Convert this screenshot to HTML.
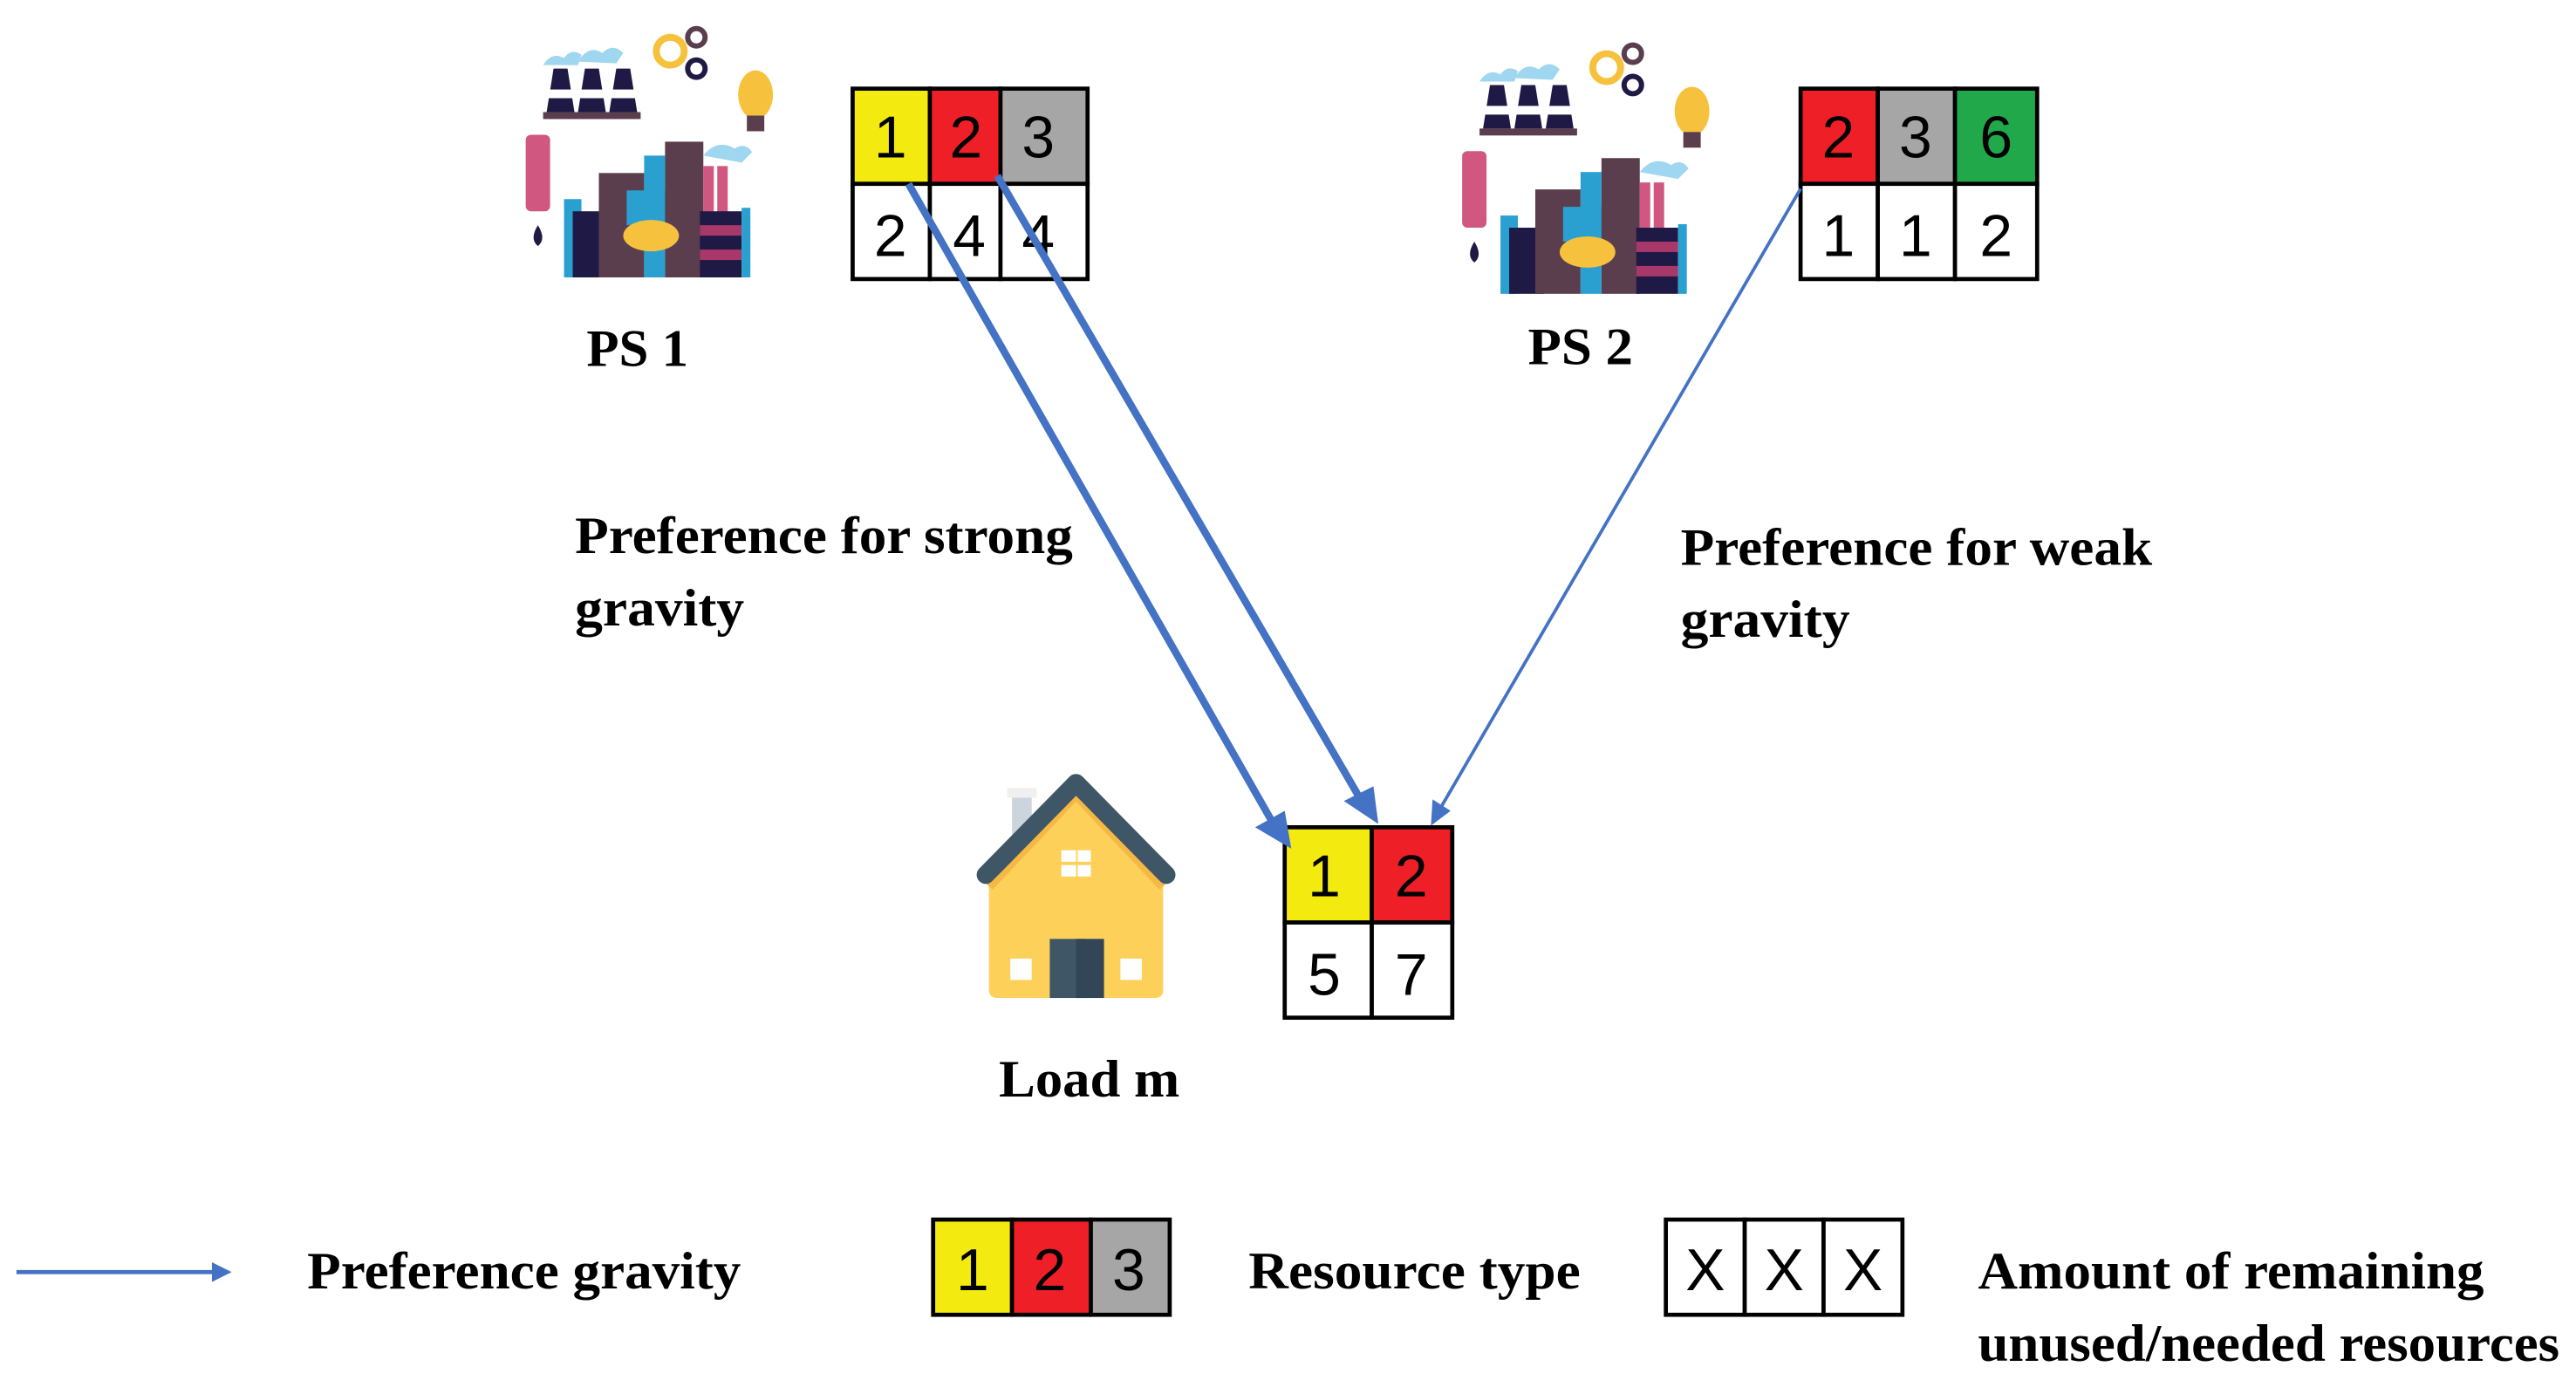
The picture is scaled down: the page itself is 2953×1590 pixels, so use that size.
<!DOCTYPE html>
<html><head><meta charset="utf-8"><style>html,body{margin:0;padding:0;background:#fff}svg{display:block}</style></head><body>
<svg width="2953" height="1590" viewBox="0 0 1568 845" preserveAspectRatio="none" xmlns="http://www.w3.org/2000/svg">
<defs>
<g id="factory">
 <path d="M10 28 q5 -8 12 -4 q4 -6 10 -2 l-2 6z" fill="#9fd6f0"/>
 <path d="M30 26 q6 -10 14 -5 q6 -6 12 0 l-4 6z" fill="#9fd6f0"/>
 <path d="M12 55 l4 -25 h8 l4 25z M30 55 l4 -25 h8 l4 25z M48 55 l4 -25 h8 l4 25z" fill="#1e1a45"/>
 <rect x="12" y="42" width="52" height="5" fill="#fff"/>
 <rect x="10" y="55" width="56" height="4" fill="#5a3e4e"/>
 <circle cx="83" cy="20" r="8" fill="none" stroke="#f6c23e" stroke-width="4"/>
 <circle cx="98" cy="12" r="5" fill="none" stroke="#5a3e4e" stroke-width="3"/>
 <circle cx="98" cy="30" r="5" fill="none" stroke="#1e1a45" stroke-width="3"/>
 <ellipse cx="132" cy="45" rx="10" ry="14" fill="#f6c23e"/>
 <rect x="127" y="57" width="10" height="9" fill="#5a3e4e"/>
 <rect x="0" y="68" width="14" height="44" rx="3" fill="#d0577f"/>
 <path d="M7 120 q-5 8 0 12 q5 -4 0 -12z" fill="#1e1a45"/>
 <rect x="22" y="105" width="10" height="45" fill="#2aa0d0"/>
 <rect x="27" y="112" width="20" height="38" fill="#1e1a45"/>
 <rect x="42" y="90" width="26" height="60" fill="#5a3e4e"/>
 <rect x="68" y="80" width="12" height="70" fill="#2aa0d0"/>
 <rect x="58" y="100" width="30" height="20" fill="#2aa0d0"/>
 <rect x="80" y="72" width="22" height="78" fill="#5a3e4e"/>
 <ellipse cx="72" cy="126" rx="16" ry="9" fill="#f6c23e"/>
 <rect x="102" y="86" width="6" height="30" fill="#d0577f"/>
 <rect x="110" y="86" width="6" height="30" fill="#d0577f"/>
 <rect x="100" y="112" width="24" height="38" fill="#1e1a45"/>
 <rect x="100" y="120" width="24" height="6" fill="#a8386a"/>
 <rect x="100" y="134" width="24" height="6" fill="#a8386a"/>
 <path d="M102 80 q8 -10 18 -4 q6 -4 10 2 l-6 6z" fill="#9fd6f0"/>
 <rect x="124" y="110" width="5" height="40" fill="#2aa0d0"/>
</g>
</defs>
<rect width="1568" height="845" fill="#fff"/>
<use href="#factory" transform="translate(320,10) scale(1.06)"/>
<use href="#factory" transform="translate(890,20) scale(1.06)"/>

<g font-family="Liberation Sans, sans-serif" font-size="36" text-anchor="middle" stroke="#000">
<rect x="519" y="54" width="47" height="58" fill="#f3ea0f" stroke-width="2.5"/>
<rect x="566" y="54" width="43" height="58" fill="#ee1f26" stroke-width="2.5"/>
<rect x="609" y="54" width="53" height="58" fill="#a6a6a6" stroke-width="2.5"/>
<rect x="519" y="112" width="47" height="58" fill="#fff" stroke-width="2.5"/>
<rect x="566" y="112" width="43" height="58" fill="#fff" stroke-width="2.5"/>
<rect x="609" y="112" width="53" height="58" fill="#fff" stroke-width="2.5"/>
<rect x="1096" y="54" width="47" height="58" fill="#ee1f26" stroke-width="2.5"/>
<rect x="1143" y="54" width="47" height="58" fill="#a6a6a6" stroke-width="2.5"/>
<rect x="1190" y="54" width="50" height="58" fill="#20a84a" stroke-width="2.5"/>
<rect x="1096" y="112" width="47" height="58" fill="#fff" stroke-width="2.5"/>
<rect x="1143" y="112" width="47" height="58" fill="#fff" stroke-width="2.5"/>
<rect x="1190" y="112" width="50" height="58" fill="#fff" stroke-width="2.5"/>
<rect x="782" y="504" width="53" height="58" fill="#f3ea0f" stroke-width="2.5"/>
<rect x="835" y="504" width="49" height="58" fill="#ee1f26" stroke-width="2.5"/>
<rect x="782" y="562" width="53" height="58" fill="#fff" stroke-width="2.5"/>
<rect x="835" y="562" width="49" height="58" fill="#fff" stroke-width="2.5"/>
<rect x="568" y="743" width="48" height="58" fill="#f3ea0f" stroke-width="2.5"/>
<rect x="616" y="743" width="48" height="58" fill="#ee1f26" stroke-width="2.5"/>
<rect x="664" y="743" width="48" height="58" fill="#a6a6a6" stroke-width="2.5"/>
<rect x="1014" y="743" width="48" height="58" fill="#fff" stroke-width="2.5"/>
<rect x="1062" y="743" width="48" height="58" fill="#fff" stroke-width="2.5"/>
<rect x="1110" y="743" width="48" height="58" fill="#fff" stroke-width="2.5"/>
<g stroke="none" fill="#000">
<text x="542" y="96">1</text><text x="588" y="96">2</text><text x="632" y="96">3</text>
<text x="542" y="156">2</text><text x="590" y="156">4</text><text x="632" y="156">4</text>
<text x="1119" y="96">2</text><text x="1166" y="96">3</text><text x="1215" y="96">6</text>
<text x="1119" y="156">1</text><text x="1166" y="156">1</text><text x="1215" y="156">2</text>
<text x="806" y="546">1</text><text x="859" y="546">2</text>
<text x="806" y="606">5</text><text x="859" y="606">7</text>
<text x="592" y="786">1</text><text x="639" y="786">2</text><text x="687" y="786">3</text>
<text x="1038" y="786">X</text><text x="1086" y="786">X</text><text x="1134" y="786">X</text>
</g>
</g>

<g stroke="#4472c4" fill="#4472c4">
<line x1="553" y1="112" x2="774" y2="500" stroke-width="4.5"/>
<polygon points="786,517 764,504 782,494" stroke="none"/>
<line x1="607" y1="107" x2="827" y2="485" stroke-width="4.5"/>
<polygon points="839,502 818,488 836,479" stroke="none"/>
<line x1="1096" y1="115" x2="877" y2="492" stroke-width="2"/>
<polygon points="871,503 872,487 883,494" stroke="none"/>
<line x1="10" y1="775" x2="132" y2="775" stroke-width="2.5"/>
<polygon points="141,775 129,769 129,781" stroke="none"/>
</g>

<rect x="613" y="480" width="18" height="6" fill="#f0f0f0"/>
<rect x="616" y="486" width="12" height="30" fill="#ccd5dd"/>
<path d="M602 540 L655 484 L708 540 V603 q0 5 -5 5 H607 q-5 0 -5 -5z" fill="#fdd05a"/>
<path d="M602 540 L655 484 L708 540" fill="none" stroke="#f6b845" stroke-width="6"/>
<path d="M600 533 L655 477 L710 533" fill="none" stroke="#3f5667" stroke-width="11" stroke-linecap="round" stroke-linejoin="round"/>
<rect x="646" y="518" width="9" height="7" fill="#fff"/><rect x="656" y="518" width="8" height="7" fill="#fff"/>
<rect x="646" y="527" width="9" height="7" fill="#fff"/><rect x="656" y="527" width="8" height="7" fill="#fff"/>
<rect x="639" y="572" width="22" height="36" fill="#3f5667"/><rect x="655" y="572" width="17" height="36" fill="#324657"/>
<rect x="615" y="584" width="13" height="13" fill="#fff"/><rect x="682" y="584" width="13" height="13" fill="#fff"/>

<g font-family="Liberation Serif, serif" font-weight="bold" font-size="32" fill="#000">
<text x="357" y="223" textLength="62" lengthAdjust="spacingAndGlyphs">PS 1</text>
<text x="930" y="222" textLength="64" lengthAdjust="spacingAndGlyphs">PS 2</text>
<text x="350" y="337" textLength="303" lengthAdjust="spacingAndGlyphs">Preference for strong</text>
<text x="350" y="381" textLength="103" lengthAdjust="spacingAndGlyphs">gravity</text>
<text x="1023" y="344" textLength="287" lengthAdjust="spacingAndGlyphs">Preference for weak</text>
<text x="1023" y="388" textLength="103" lengthAdjust="spacingAndGlyphs">gravity</text>
<text x="608" y="668" textLength="110" lengthAdjust="spacingAndGlyphs">Load m</text>
<text x="187" y="785" textLength="264" lengthAdjust="spacingAndGlyphs">Preference gravity</text>
<text x="760" y="785" textLength="202" lengthAdjust="spacingAndGlyphs">Resource type</text>
<text x="1204" y="785" textLength="308" lengthAdjust="spacingAndGlyphs">Amount of remaining</text>
<text x="1204" y="829" textLength="354" lengthAdjust="spacingAndGlyphs">unused/needed resources</text>
</g>
</svg>
</body></html>
